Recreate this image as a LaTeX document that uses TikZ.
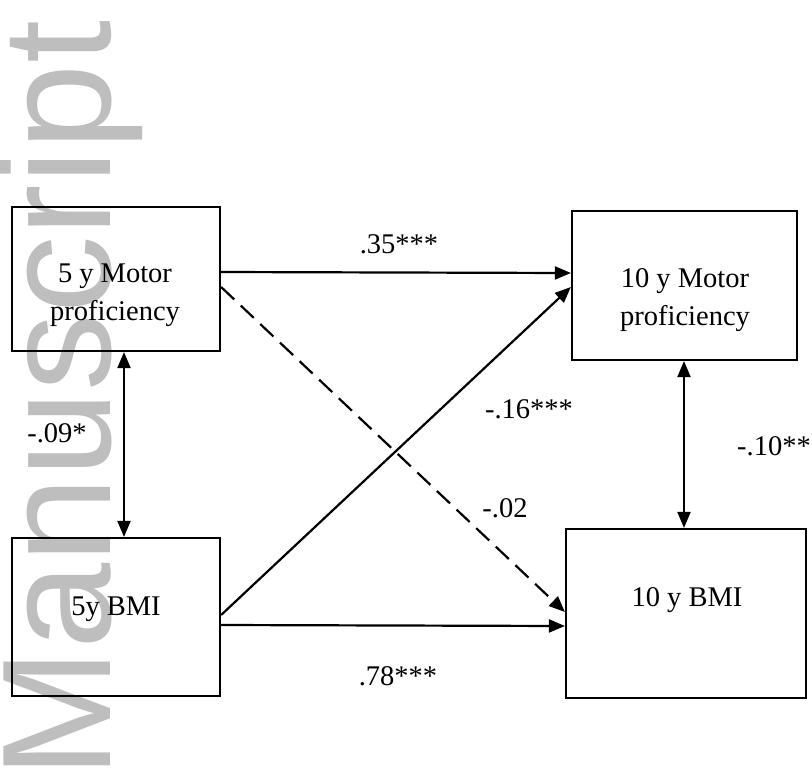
\documentclass[tikz,border=0pt]{standalone}
\usepackage{fontspec}
\setmainfont{Liberation Serif}
\newfontfamily\wmfont{Liberation Sans}
\usetikzlibrary{arrows.meta}
\definecolor{wm}{RGB}{190,190,190}
\begin{document}
\begin{tikzpicture}[x=1pt,y=-1pt,
  box/.style={draw, line width=2.2pt, inner sep=0pt},
  txt/.style={font=\fontsize{28.5}{38}\selectfont, inner sep=0pt, align=center},
  lbl/.style={font=\fontsize{28.5}{34}\selectfont, inner sep=0pt, anchor=base},
  tip/.style={-{Triangle[length=16pt,width=13pt]}},
  arr/.style={line width=2.2pt, tip},
  darr/.style={line width=2.2pt, {Triangle[length=16pt,width=13pt]}-{Triangle[length=16pt,width=13pt]}},
]
\useasboundingbox (0,0) rectangle (812,782);
% watermark
\node[rotate=90, anchor=base west, text=wm, font=\wmfont\fontsize{155}{155}\selectfont, inner sep=0pt] (wmark) at (110,779) {Manuscript};
% boxes
\node[box, minimum width=208pt, minimum height=144pt] (A) at (116,279) {};
\node[box, minimum width=208pt, minimum height=158pt] (B) at (116,617) {};
\node[box, minimum width=225pt, minimum height=149pt] (C) at (684.5,285.5) {};
\node[box, minimum width=240pt, minimum height=169pt] (D) at (686,613.5) {};
% box texts
\node[txt] (At) at (115,295) {5 y Motor\\proficiency};
\node[lbl] (Bt) at (116,615) {5y BMI};
\node[txt] (Ct) at (685,300) {10 y Motor\\proficiency};
\node[lbl] (Dt) at (687,606) {10 y BMI};
% connectors
\draw[arr] ([yshift=7pt]A.east) -- ([yshift=12.5pt]C.west);
\draw[arr, dash pattern=on 18pt off 9pt] ([yshift=-8pt]A.east) -- ([yshift=1.5pt]D.west);
\draw[arr] ([yshift=2pt]B.east) -- ([yshift=-1.5pt]C.west);
\draw[arr] ([yshift=-8pt]B.east) -- ([yshift=-12.5pt]D.west);
\draw[darr] ([xshift=8pt]A.south) -- ([xshift=8pt]B.north);
\draw[darr] ([xshift=-0.5pt]C.south) -- ([xshift=-0.5pt]C.south |- D.north);
% coefficient labels
\node[lbl] (l35) at (399,253) {.35***};
\node[lbl] (l78) at (398,685) {.78***};
\node[lbl] (l16) at (529,418) {-.16***};
\node[lbl] (l02) at (505,517) {-.02};
\node[lbl] (l10) at (774,455) {-.10**};
\node[lbl] (l09) at (57,442) {-.09*};
\end{tikzpicture}
\end{document}
